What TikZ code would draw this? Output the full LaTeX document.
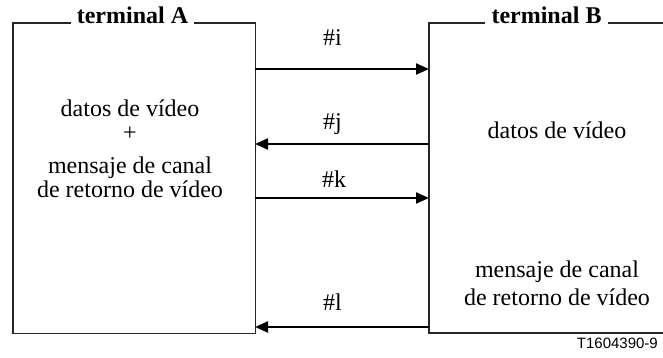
\documentclass[tikz,border=0pt]{standalone}
\usepackage{fontspec}
\setmainfont{Liberation Serif}
\newfontfamily\labelsans{Liberation Sans}
\usetikzlibrary{arrows.meta}
\begin{document}
\begin{tikzpicture}[x=1pt,y=-1pt,
  boxline/.style={line width=1.2pt, draw=black!85},
  msg/.style={line width=2.2pt, -{Triangle[length=13pt,width=11pt]}},
  lbl/.style={font=\fontsize{24}{26}\selectfont, inner sep=0pt, anchor=base west},
  body/.style={font=\fontsize{24}{26}\selectfont, inner sep=0pt, anchor=base},
  ttl/.style={font=\fontsize{24}{26}\selectfont\bfseries, inner xsep=6pt, inner ysep=0pt, anchor=base},
  ]
\useasboundingbox (0,0) rectangle (663,358);
% terminal A box
\node[minimum width=242pt, minimum height=310pt, anchor=north west, inner sep=0pt] (A) at (13,23) {};
\node[ttl] (tA) at (132.5,24) {terminal A};
\draw[boxline] (tA.west |- A.north) -- (A.north west) -- (A.south west) -- (A.south east)
  -- (A.north east) -- (tA.east |- A.north);
% terminal B box (continues past the right edge)
\coordinate (B1) at (663,23);
\coordinate (B2) at (429,23);
\coordinate (B3) at (429,333);
\coordinate (B4) at (663,333);
\node[ttl] (tB) at (546.5,24) {terminal B};
\draw[boxline] (B1) -- (tB.east |- B1);
\draw[boxline] (tB.west |- B2) -- (B2) -- (B3) -- (B4);
% body texts
\node[body] (a1) at (130,117) {datos de vídeo};
\node[body] (a2) at (130,141) {+};
\node[body] (a3) at (130,173) {mensaje de canal};
\node[body] (a4) at (130,197) {de retorno de vídeo};
\node[body] (b1) at (557,139) {datos de vídeo};
\node[body] (b2) at (557,277) {mensaje de canal};
\node[body] (b3) at (557,305) {de retorno de vídeo};
% arrow endpoints
\coordinate (Ai) at (255,69);  \coordinate (Bi) at (429,69);
\coordinate (Aj) at (255,144); \coordinate (Bj) at (429,144);
\coordinate (Ak) at (255,198); \coordinate (Bk) at (429,198);
\coordinate (Al) at (255,327); \coordinate (Bl) at (429,327);
\draw[msg] (Ai) -- (Bi);
\draw[msg] (Bj) -- (Aj);
\draw[msg] (Ak) -- (Bk);
\draw[msg] (Bl) -- (Al);
% labels
\node[lbl] (li) at (323,46) {\#i};
\node[lbl] (lj) at (323,130) {\#j};
\node[lbl] (lk) at (322,187) {\#k};
\node[lbl] (ll) at (323,310) {\#l};
% figure id
\node[font=\fontsize{15}{17}\selectfont\labelsans, anchor=base east, inner sep=0pt] (fid) at (658,348) {T1604390-9};
\end{tikzpicture}
\end{document}
